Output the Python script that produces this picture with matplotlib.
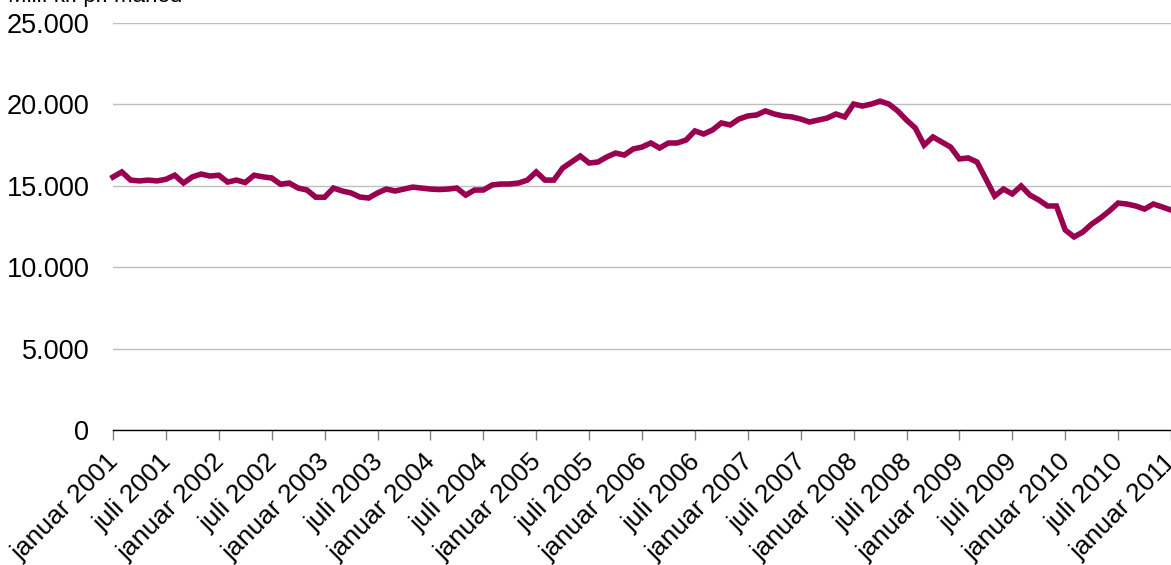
import matplotlib
matplotlib.use("Agg")
import matplotlib.pyplot as plt
from matplotlib.ticker import FuncFormatter
import numpy as np

plt.rcParams['font.family'] = ['Liberation Sans', 'DejaVu Sans']

# mill. kr. pr. maaned, januar 2001 - januar 2011
values = [
    15540, 15850, 15350, 15300, 15350, 15300, 15400, 15650, 15170, 15550, 15720, 15600,
    15650, 15230, 15350, 15200, 15650, 15550, 15480, 15100, 15170, 14860, 14740, 14300,
    14300, 14860, 14680, 14560, 14310, 14250, 14560, 14800, 14680, 14800, 14920, 14860,
    14800, 14770, 14800, 14860, 14430, 14740, 14740, 15050, 15110, 15110, 15170, 15350,
    15850, 15350, 15350, 16090, 16460, 16830, 16400, 16460, 16770, 17010, 16890, 17260,
    17380, 17630, 17320, 17630, 17630, 17810, 18370, 18180, 18430, 18860, 18740, 19100,
    19290, 19350, 19600, 19410, 19290, 19230, 19100, 18920, 19040, 19160, 19410, 19230,
    20020, 19900, 20020, 20200, 20020, 19600, 19040, 18550, 17500, 18000, 17690, 17380,
    16650, 16710, 16460, 15420, 14370, 14800, 14500, 14990, 14430, 14130, 13760, 13760,
    12290, 11860, 12160, 12650, 13020, 13450, 13940, 13880, 13760, 13570, 13880, 13700,
    13510,
]

tick_labels = [
    "januar 2001", "juli 2001", "januar 2002", "juli 2002", "januar 2003", "juli 2003",
    "januar 2004", "juli 2004", "januar 2005", "juli 2005", "januar 2006", "juli 2006",
    "januar 2007", "juli 2007", "januar 2008", "juli 2008", "januar 2009", "juli 2009",
    "januar 2010", "juli 2010", "januar 2011",
]
y_ticks = [0, 5000, 10000, 15000, 20000, 25000]

x = np.arange(len(values))

fig = plt.figure(figsize=(11.71, 5.65), dpi=100)
ax = fig.add_axes([113 / 1171, 1 - 430 / 565, 1 - 113 / 1171, (430 - 23) / 565])

ax.plot(x, values, color='#990050', linewidth=4, solid_joinstyle='miter', clip_on=False, zorder=3)

ax.set_xlim(0, len(values) - 1)
ax.set_ylim(0, 25000)
ax.set_yticks(y_ticks)
ax.yaxis.set_major_formatter(FuncFormatter(lambda v, p: f"{int(v):,}".replace(",", ".")))
ax.grid(axis='y', color='#bfbfbf', linewidth=1)
ax.set_axisbelow(True)

ax.set_xticks(np.arange(0, len(values), 6))
ax.set_xticklabels(tick_labels, rotation=45, ha='right', va='center_baseline', rotation_mode='anchor')

for s in ['top', 'right', 'left']:
    ax.spines[s].set_visible(False)
ax.spines['bottom'].set_color('black')
ax.spines['bottom'].set_linewidth(1)

ax.tick_params(axis='y', length=0, pad=17, labelsize=19.5)
ax.tick_params(axis='x', length=7, color='#808080', width=1, pad=12, labelsize=19)

fig.text(8 / 1171, 1 - 2 / 565, "Mill. kr. pr. måned", fontsize=16, va='baseline', ha='left')

fig.savefig("out.png", dpi=100)
